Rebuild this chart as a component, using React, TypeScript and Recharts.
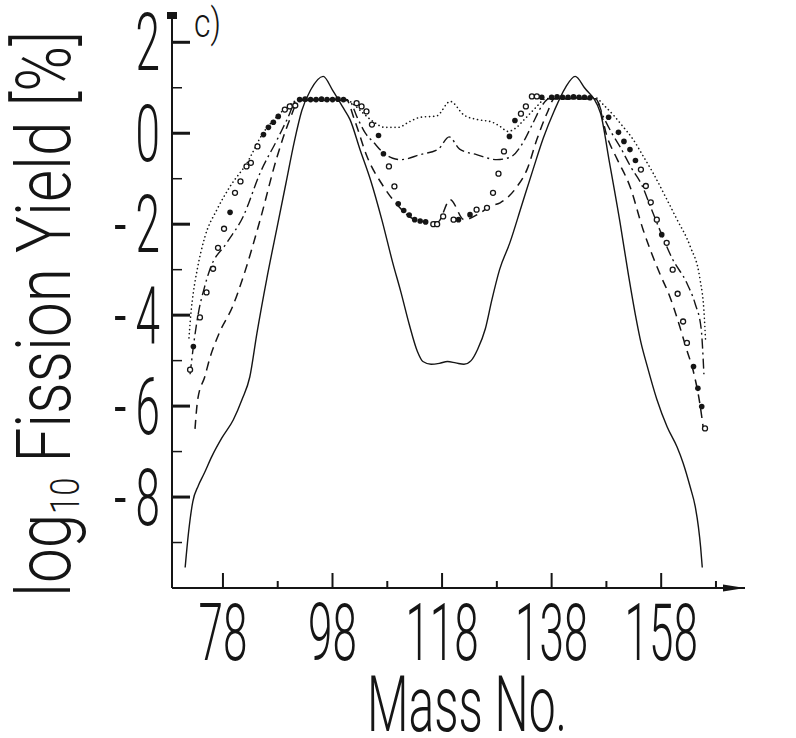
import React from "react";
import { ComposedChart, Line, Scatter, XAxis, YAxis, ReferenceDot } from "recharts";

// ---- data (mass number, log10 yield) ----
const solidCurve: [number, number][] = [
  [71.1, -9.55], [71.7, -8.8], [72.5, -8.1], [73.5, -7.75], [74.5, -7.5], [76, -7.1], [77.8, -6.7],
  [79.9, -6.3], [81.5, -5.85], [82.9, -5.36], [84.2, -4.4], [86, -3.2], [88, -2.0], [89.5, -1.1],
  [91, -0.2], [92.4, 0.5], [94, 0.95], [96.3, 1.25], [98, 0.95], [100, 0.55], [101.2, 0.3],
  [103, -0.35], [105, -1.05], [107, -1.9], [109, -2.85], [110.5, -3.5], [112, -4.2], [113.5, -4.8],
  [114.5, -5.02], [116, -5.08], [117.5, -5.06], [119, -5.02], [120.5, -5.05], [122, -5.08],
  [123.3, -5.0], [124.5, -4.75], [125.9, -4.3], [127.1, -3.66], [128.5, -3.0], [130.4, -2.4],
  [132.5, -1.6], [134.6, -0.8], [136.5, -0.1], [138.5, 0.5], [140.5, 1.0], [142.3, 1.25], [144, 1.0],
  [146.9, 0.45], [148.5, -0.6], [150.5, -1.97], [152, -3.1], [153.3, -4.0], [154.3, -4.6],
  [155.4, -5.1], [157.2, -5.85], [159.1, -6.46], [160.9, -6.9], [162, -7.25], [163.3, -7.78],
  [164.2, -8.2], [164.8, -8.66], [165.2, -9.1], [165.5, -9.55],
];

const dottedCurve: [number, number][] = [
  [71.8, -4.5], [72.2, -3.9], [72.6, -3.5], [73.3, -3.0], [74.7, -2.28], [76.9, -1.68], [79.3, -1.17],
  [82.4, -0.65], [85.3, 0.0], [87.9, 0.37], [90.2, 0.63], [92, 0.74], [100.5, 0.74], [102, 0.62],
  [103.5, 0.45], [105.5, 0.25], [107.5, 0.13], [110, 0.13], [112, 0.25], [114, 0.35], [117, 0.38],
  [119.5, 0.7], [122, 0.4], [124.5, 0.3], [127, 0.25], [128.6, 0.15], [130, 0.04], [131.5, 0.12],
  [133, 0.3], [135, 0.55], [137, 0.76], [146, 0.78], [147.5, 0.62], [149.2, 0.41], [151, 0.15],
  [152.9, -0.14], [154.7, -0.5], [156.5, -0.87], [158.8, -1.4], [160.9, -1.9], [163.3, -2.49],
  [165.1, -3.22], [165.8, -3.9], [166.1, -4.55],
];

const dashDotCurve: [number, number][] = [
  [72, -5.3], [72.7, -4.6], [73.6, -3.9], [74.6, -3.4], [75.6, -3.0], [78.7, -2.41], [81.7, -1.83],
  [84.8, -0.87], [87.9, -0.14], [89.7, 0.3], [91.5, 0.72], [101, 0.72], [102.5, 0.35], [104, 0.0],
  [105.5, -0.2], [107, -0.4], [109, -0.55], [110.5, -0.58], [114, -0.47], [117.3, -0.35],
  [119.3, -0.08], [121.2, -0.35], [124.3, -0.47], [128, -0.58], [130.4, -0.53], [132.8, -0.2],
  [134.5, 0.2], [136.2, 0.6], [137.5, 0.76], [146, 0.76], [147.5, 0.35], [149, 0.0], [150.5, -0.3],
  [152.5, -0.75], [154.5, -1.15], [156, -1.6], [158, -2.2], [160, -2.75], [162.7, -3.3],
  [164.2, -3.75], [165.3, -4.3], [165.8, -5.3],
];

const dashedCurve: [number, number][] = [
  [72.9, -6.5], [73.4, -5.85], [74.7, -5.35], [75.6, -4.95], [77.3, -4.4], [79.8, -3.8], [81.7, -3.16],
  [84.8, -1.9], [87.9, -0.51], [90.2, 0.3], [92, 0.74], [100.5, 0.74], [102, 0.3], [104.3, -0.51],
  [107.3, -1.17], [110, -1.6], [113, -1.9], [115, -1.95], [117.2, -1.95], [119.5, -1.46], [122, -1.9],
  [125, -1.75], [126.8, -1.6], [128.6, -1.53], [131.7, -1.17], [133.5, -0.8], [135.3, -0.14],
  [137.2, 0.45], [138.5, 0.76], [146, 0.76], [148.3, -0.14], [150, -0.58], [152.3, -1.17],
  [154.7, -2.12], [156, -2.56], [157.8, -3.1], [159.6, -3.6], [161, -4.1], [162.5, -4.7], [164, -5.3],
  [165, -5.9], [165.7, -6.5],
];

const openPoints: [number, number][] = [
  [72.0, -5.2], [73.8, -4.05], [75.0, -3.5], [76.2, -2.98], [77.1, -2.52], [78.2, -2.1], [80.2, -1.31],
  [81.2, -1.06], [82.3, -0.73], [83.1, -0.65], [84.3, -0.29], [89.3, 0.52], [90.2, 0.59], [91.2, 0.61],
  [102.4, 0.66], [103.3, 0.59], [104.2, 0.48], [105.2, 0.19], [108.3, -0.73], [109.3, -1.17],
  [116.4, -2.0], [117.1, -2.0], [118.2, -1.83], [120.1, -1.9], [124.3, -1.68], [126.2, -1.64],
  [127.3, -1.31], [128.3, -0.89], [129.3, -0.4], [132.4, 0.43], [133.3, 0.59], [134.4, 0.81],
  [135.3, 0.81], [154.3, -0.8], [155.2, -1.16], [156.1, -1.52], [157.2, -1.9], [159.0, -2.41],
  [160.1, -3.0], [161.0, -3.53], [162.0, -4.14], [162.7, -4.61], [166.0, -6.49],
];

const filledPoints: [number, number][] = [
  [72.6, -4.69], [79.3, -1.74], [85.4, -0.03], [86.3, 0.13], [87.2, 0.24], [88.1, 0.37],
  [92, 0.74], [93, 0.75], [94, 0.74], [95, 0.74], [96, 0.75], [97, 0.74], [98, 0.74], [99, 0.75], [100, 0.74],
  [106.4, -0.05], [107.3, -0.45], [110.0, -1.55], [111, -1.7], [112, -1.8], [113, -1.9], [114, -1.93],
  [115, -1.95], [121, -1.9], [123.1, -1.79], [130.3, -0.07], [131.3, 0.28], [136.2, 0.79],
  [138, 0.79], [139, 0.8], [140, 0.79], [141, 0.79], [142, 0.8], [143, 0.79], [144, 0.79], [145, 0.78],
  [148.4, 0.35], [150.2, 0.02], [151.2, -0.18], [152.3, -0.36], [153.3, -0.6], [158.1, -2.23],
  [163.9, -5.13], [164.7, -5.61], [165.4, -6.01],
];

const xTicks = [78, 88, 98, 108, 118, 128, 138, 148, 158, 168];
const xTickLabels = ["78", "", "98", "", "118", "", "138", "", "158", ""];
const yTicks = [2, 1, 0, -1, -2, -3, -4, -5, -6, -7, -8, -9];
const yTickLabels = ["2", "", "0", "", "-2", "", "-4", "", "-6", "", "-8", ""];

const toRows = (pts: [number, number][]) => pts.map(([A, v]) => ({ A, v }));

const INK = "#151515";
const FONT = "Roboto, 'DejaVu Sans', sans-serif";

function Din(props: { x: number; y: number; size: number; sx: number; anchor: string; children: any }) {
  const { x, y, size, sx, anchor, children } = props;
  return (
    <text
      transform={`translate(${x},${y}) scale(${sx},1)`}
      x={0}
      y={0}
      fontFamily={FONT}
      fontWeight={300}
      fontSize={size}
      textAnchor={anchor as any}
      fill={INK}
    >
      {children}
    </text>
  );
}

const XTick = (p: any) => {
  const { x, y, payload } = p;
  const i = xTicks.indexOf(payload.value);
  const label = i >= 0 ? xTickLabels[i] : "";
  const major = label !== "";
  return (
    <g>
      <line x1={x} y1={y} x2={x} y2={y - (major ? 15 : 7)} stroke={INK} strokeWidth={2} />
      {major && (
        <Din x={x} y={y + 72} size={80} sx={0.55} anchor="middle">
          {label}
        </Din>
      )}
    </g>
  );
};

const YTick = (p: any) => {
  const { x, y, payload } = p;
  const i = yTicks.indexOf(payload.value);
  const label = i >= 0 ? yTickLabels[i] : "";
  const major = label !== "";
  return (
    <g>
      <line x1={x} y1={y} x2={x + (major ? 18 : 10)} y2={y} stroke={INK} strokeWidth={major ? 3 : 1.5} />
      {major && (
        <Din x={x - 12} y={y + 28} size={80} sx={0.55} anchor="end">
          {label.replace("-", "-\u2009")}
        </Din>
      )}
    </g>
  );
};

const YTitle = () => (
  <text
    transform="translate(70,314) rotate(-90)"
    textAnchor="middle"
    fontFamily={FONT}
    fontWeight={300}
    fontSize={76}
    fill={INK}
    textLength={566}
    lengthAdjust="spacingAndGlyphs"
  >
    log<tspan fontSize={40} dy={9}>10</tspan>
    <tspan dy={-9}> Fission Yield [%]</tspan>
  </text>
);

const XTitle = () => (
  <text
    x={467}
    y={731}
    textAnchor="middle"
    fontFamily={FONT}
    fontWeight={300}
    fontSize={77}
    fill={INK}
    textLength={200}
    lengthAdjust="spacingAndGlyphs"
  >
    Mass No.
  </text>
);

const XArrow = (p: any) => (
  <polygon points={`${p.cx - 22},${p.cy - 3.5} ${p.cx},${p.cy} ${p.cx - 22},${p.cy + 3.5}`} fill={INK} />
);

const YCap = (p: any) => (
  <g>
    <rect x={p.cx - 5} y={p.cy - 3} width={10} height={7} fill={INK} />
    <Din x={p.cx + 22} y={p.cy + 22} size={40} sx={0.8} anchor="start">
      c)
    </Din>
  </g>
);

const openShape = (p: any) => (
  <circle cx={p.cx} cy={p.cy} r={2.5} fill="#fff" stroke={INK} strokeWidth={1.3} />
);
const filledShape = (p: any) => <circle cx={p.cx} cy={p.cy} r={2.8} fill={INK} />;

export default function App() {
  return (
    <div style={{ position: "absolute", left: 0, top: 0, background: "#fff" }}>
      <ComposedChart width={796} height={738} margin={{ top: 15, right: 51, bottom: 0, left: 0 }}>
        <XAxis
          type="number"
          dataKey="A"
          domain={[68.7, 173.3]}
          allowDataOverflow
          ticks={xTicks}
          interval={0}
          tick={XTick}
          tickLine={false}
          tickSize={0}
          tickMargin={0}
          height={150}
          axisLine={{ stroke: INK, strokeWidth: 2 }}
          label={{ content: () => <XTitle /> }}
        />
        <YAxis
          type="number"
          domain={[-10, 2.6]}
          allowDataOverflow
          ticks={yTicks}
          interval={0}
          tick={YTick}
          tickLine={false}
          tickSize={0}
          tickMargin={0}
          width={172}
          axisLine={{ stroke: INK, strokeWidth: 2 }}
          label={{ content: () => <YTitle /> }}
        />
        <Line data={toRows(dottedCurve)} dataKey="v" type="monotone" stroke={INK} strokeWidth={1.6}
          strokeDasharray="0.1 4" strokeLinecap="round" dot={false} isAnimationActive={false} />
        <Line data={toRows(dashDotCurve)} dataKey="v" type="monotone" stroke={INK} strokeWidth={1.4}
          strokeDasharray="10 4 2 4" dot={false} isAnimationActive={false} />
        <Line data={toRows(dashedCurve)} dataKey="v" type="monotone" stroke={INK} strokeWidth={1.5}
          strokeDasharray="9 6" dot={false} isAnimationActive={false} />
        <Line data={toRows(solidCurve)} dataKey="v" type="monotone" stroke={INK} strokeWidth={1.4}
          dot={false} isAnimationActive={false} />
        <Scatter data={toRows(filledPoints)} dataKey="v" shape={filledShape} isAnimationActive={false} />
        <Scatter data={toRows(openPoints)} dataKey="v" shape={openShape} isAnimationActive={false} />
        <ReferenceDot x={173.3} y={-10} ifOverflow="visible" shape={XArrow} />
        <ReferenceDot x={68.7} y={2.6} ifOverflow="visible" shape={YCap} />
      </ComposedChart>
    </div>
  );
}
